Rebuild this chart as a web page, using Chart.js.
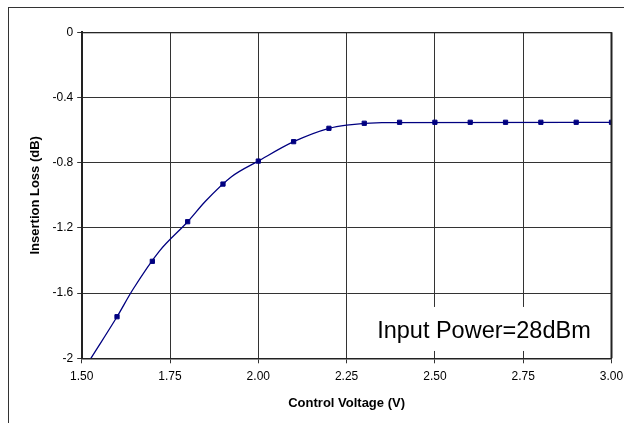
<!DOCTYPE html>
<html>
<head>
<meta charset="utf-8">
<script src="https://cdn.jsdelivr.net/npm/chart.js@4.4.1/dist/chart.umd.min.js"></script>
<style>
  html, body { margin: 0; padding: 0; background: #ffffff; }
  #wrap { position: relative; width: 624px; height: 423px; }
</style>
</head>
<body>
<div id="wrap"><canvas id="c"></canvas></div>
<script>
// ---- data ----
const voltage = [1.6, 1.7, 1.8, 1.9, 2.0, 2.1, 2.2, 2.3, 2.4, 2.5, 2.6, 2.7, 2.8, 2.9, 3.0];
const insertionLoss = [-1.745, -1.405, -1.162, -0.931, -0.790, -0.671, -0.589, -0.558, -0.552, -0.552, -0.552, -0.552, -0.552, -0.552, -0.552];
// smoothed curve
const curveVoltage = [1.526, 1.6, 1.644, 1.72, 1.8, 1.851, 1.924, 2.0, 2.1, 2.2, 2.25, 2.35, 3.0];
const curveLoss = [-2.0, -1.745, -1.581, -1.342, -1.162, -1.035, -0.886, -0.790, -0.671, -0.589, -0.569, -0.554, -0.552];
const xTickLabels = ['1.50', '1.75', '2.00', '2.25', '2.50', '2.75', '3.00'];
const yTickLabels = ['-2', '-1.6', '-1.2', '-0.8', '-0.4', '0'];
const annotationText = 'Input Power=28dBm';
const xTitle = 'Control Voltage (V)';
const yTitle = 'Insertion Loss (dB)';

const FONT = "'Liberation Sans', Arial, sans-serif";
const NAVY = '#000080';

const pointsData = voltage.map((v, i) => ({ x: v, y: insertionLoss[i] }));
const curveData = curveVoltage.map((v, i) => ({ x: v, y: curveLoss[i] }));

const outerFrame = {
  id: 'outerFrame',
  beforeDraw(chart) {
    const ctx = chart.ctx;
    ctx.save();
    ctx.strokeStyle = '#333333';
    ctx.lineWidth = 1;
    ctx.strokeRect(8.5, 7.5, 800, 600);
    ctx.restore();
  }
};

const noteBox = {
  id: 'noteBox',
  beforeDatasetsDraw(chart) {
    const { ctx, scales: { x, y } } = chart;
    const left = x.getPixelForValue(2.27);
    const right = x.getPixelForValue(3.0);
    const top = y.getPixelForValue(-1.685);
    const bottom = y.getPixelForValue(-1.955);
    ctx.save();
    ctx.fillStyle = '#ffffff';
    ctx.fillRect(left, top, right - left, bottom - top);
    ctx.fillStyle = '#000000';
    ctx.font = '23.5px ' + FONT;
    ctx.textBaseline = 'alphabetic';
    ctx.textAlign = 'left';
    ctx.fillText(annotationText, x.getPixelForValue(2.3365), y.getPixelForValue(-1.878));
    ctx.restore();
  },
  afterDatasetsDraw(chart) {
    const { ctx, chartArea: a } = chart;
    ctx.save();
    ctx.strokeStyle = '#222222';
    ctx.lineWidth = 1;
    ctx.beginPath();
    ctx.moveTo(a.left, a.top + 0.5);
    ctx.lineTo(a.right, a.top + 0.5);
    ctx.stroke();
    ctx.lineWidth = 2;
    ctx.beginPath();
    ctx.moveTo(a.right, a.top);
    ctx.lineTo(a.right, a.bottom);
    ctx.stroke();
    ctx.restore();
  }
};

new Chart(document.getElementById('c'), {
  type: 'scatter',
  data: {
    datasets: [
      {
        label: 'curve',
        data: curveData,
        showLine: true,
        borderColor: NAVY,
        borderWidth: 1.3,
        pointRadius: 0,
        cubicInterpolationMode: 'monotone',
        order: 2
      },
      {
        label: 'measured',
        data: pointsData,
        showLine: false,
        pointStyle: 'rect',
        pointRadius: 3,
        pointBorderWidth: 1,
        pointBackgroundColor: NAVY,
        pointBorderColor: NAVY,
        order: 1
      }
    ]
  },
  options: {
    responsive: true,
    maintainAspectRatio: false,
    animation: false,
    devicePixelRatio: 1,
    layout: { padding: { left: 0, right: 12.5, top: 32.3, bottom: 0 } },
    plugins: { legend: { display: false }, tooltip: { enabled: false } },
    scales: {
      x: {
        type: 'linear',
        min: 1.5, max: 3.0,
        afterBuildTicks(scale) {
          scale.ticks = xTickLabels.map(t => ({ value: parseFloat(t) }));
        },
        ticks: {
          callback: (v, i) => xTickLabels[i],
          color: '#000000',
          font: { family: FONT, size: 12 },
          padding: 6,
          maxRotation: 0,
          autoSkip: false
        },
        grid: { color: '#333333', lineWidth: 1, tickLength: 5, drawTicks: true },
        border: { color: '#222222', width: 1.5 },
        title: {
          display: true, text: xTitle, color: '#000000',
          font: { family: FONT, size: 13, weight: 'bold' },
          padding: { top: 0, bottom: 11.7 }
        },
        afterFit(scale) {
          scale.height = 423 - 358.3;
          scale.paddingLeft = 0;
          scale.paddingRight = 0;
        }
      },
      y: {
        type: 'linear',
        min: -2, max: 0,
        afterBuildTicks(scale) {
          scale.ticks = yTickLabels.map(t => ({ value: parseFloat(t) }));
        },
        ticks: {
          callback: (v, i) => yTickLabels[i],
          color: '#000000',
          font: { family: FONT, size: 12 },
          padding: 4,
          autoSkip: false
        },
        grid: { color: '#333333', lineWidth: 1, tickLength: 4.5, drawTicks: true },
        border: { color: '#222222', width: 2 },
        title: {
          display: true, text: yTitle, color: '#000000',
          font: { family: FONT, size: 13, weight: 'bold' },
          padding: { top: 27.2, bottom: 0 }
        },
        afterFit(scale) {
          scale.width = 81.7;
        }
      }
    }
  },
  plugins: [outerFrame, noteBox]
});
</script>
</body>
</html>
